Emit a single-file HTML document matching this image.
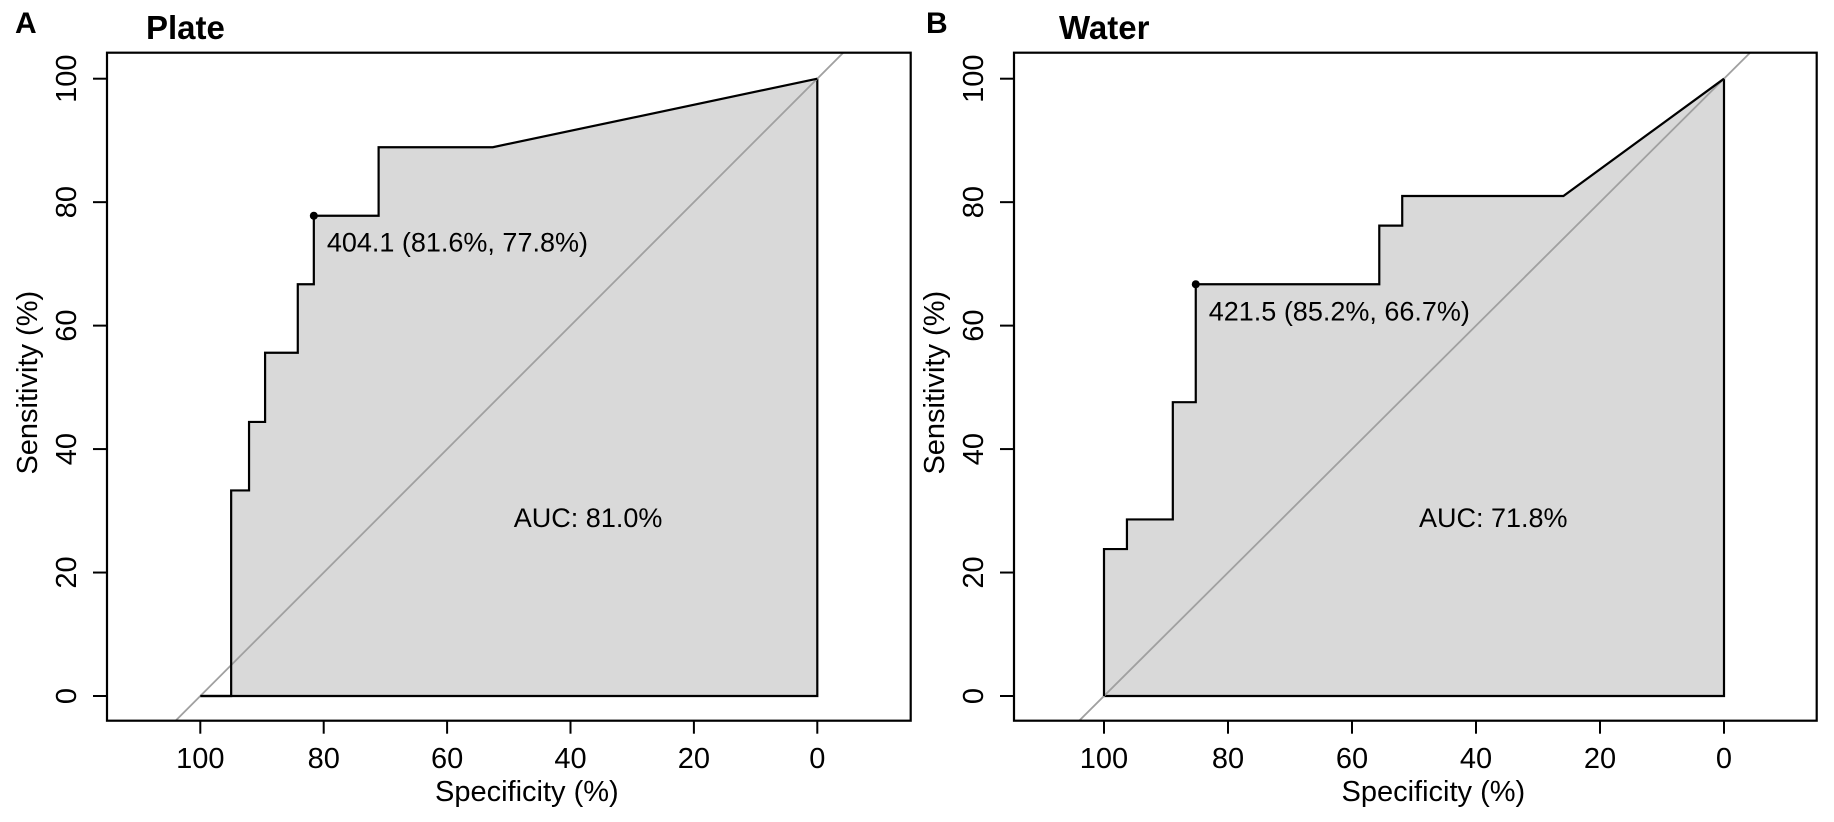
<!DOCTYPE html>
<html><head><meta charset="utf-8">
<style>
html,body{margin:0;padding:0;background:#fff;}
svg{display:block;font-family:"Liberation Sans",Arial,sans-serif;}
</style></head>
<body>
<svg id="chart" width="1834" height="822" viewBox="0 0 1834 822"></svg>
<script>
// Panel A (Plate) data
const plateSpec = [100, 95, 95, 92.1, 92.1, 89.5, 89.5, 84.2, 84.2, 81.6, 81.6, 71.1, 71.1, 52.6, 0];
const plateSens = [0, 0, 33.3, 33.3, 44.4, 44.4, 55.6, 55.6, 66.7, 66.7, 77.8, 77.8, 88.9, 88.9, 100];
const plateBest = [81.6, 77.8];
const plateBestLabel = "404.1 (81.6%, 77.8%)";
const plateAuc = "AUC: 81.0%";
// Panel B (Water) data
const waterSpec = [100, 100, 96.3, 96.3, 88.9, 88.9, 85.2, 85.2, 55.6, 55.6, 51.9, 51.9, 25.9, 0];
const waterSens = [0, 23.8, 23.8, 28.6, 28.6, 47.6, 47.6, 66.7, 66.7, 76.2, 76.2, 81.0, 81.0, 100];
const waterBest = [85.2, 66.7];
const waterBestLabel = "421.5 (85.2%, 66.7%)";
const waterAuc = "AUC: 71.8%";
const tickValues = [100, 80, 60, 40, 20, 0];
const tickLabels = ["100", "80", "60", "40", "20", "0"];

const NS = "http://www.w3.org/2000/svg";
const svg = document.getElementById("chart");
function mk(tag, attrs, parent) {
  const e = document.createElementNS(NS, tag);
  for (const k in attrs) e.setAttribute(k, attrs[k]);
  (parent || svg).appendChild(e);
  return e;
}

function panel(cfg) {
  const g = mk("g", {});
  
  
  const bx0 = cfg.bx0, bx1 = cfg.bx1, by0 = 52.7, by1 = 720.7;
  const xs = v => cfg.x0 - v * cfg.kx;
  const ys = v => 696 - v * 6.173;
  const clipId = "clip-" + cfg.name;
  const cp = mk("clipPath", { id: clipId }, g);
  mk("rect", { x: bx0, y: by0, width: bx1 - bx0, height: by1 - by0 }, cp);

  let pts = cfg.spec.map((s, i) => xs(s) + "," + ys(cfg.sens[i]));
  pts.push(xs(0) + "," + ys(0));
  const poly = mk("polygon", { points: pts.join(" "), fill: "#d9d9d9", stroke: "none" }, g);
  
  
  const base = mk("polyline", { points: xs(cfg.spec[0]) + "," + ys(0) + " " + xs(0) + "," + ys(0) + " " + xs(0) + "," + ys(100), fill: "none", stroke: "#000", "stroke-width": 2.2 }, g);
  
  

  const diag = mk("line", { x1: xs(110), y1: ys(-10), x2: xs(-10), y2: ys(110), stroke: "#a0a0a0", "stroke-width": 1.8, "clip-path": "url(#" + clipId + ")" }, g);
  
  

  const roc = mk("polyline", { points: cfg.spec.map((s, i) => xs(s) + "," + ys(cfg.sens[i])).join(" "), fill: "none", stroke: "#000", "stroke-width": 2.2 }, g);
  
  

  const bp = mk("circle", { cx: xs(cfg.best[0]), cy: ys(cfg.best[1]), r: 4, fill: "#000" }, g);
  
  
  const bl = mk("text", { x: xs(cfg.best[0]) + 13, y: ys(cfg.best[1]) + 36, "font-size": 27 }, g);
  bl.textContent = cfg.bestLabel;
  
  
  const al = mk("text", { x: xs(50) + 5, y: ys(27.4), "font-size": 27 }, g);
  al.textContent = cfg.auc;
  
  

  const box = mk("rect", { x: bx0, y: by0, width: bx1 - bx0, height: by1 - by0, fill: "none", stroke: "#000", "stroke-width": 2.2 }, g);
  
  

  tickValues.forEach((v, i) => {
    const tx = mk("line", { x1: xs(v), y1: by1, x2: xs(v), y2: by1 + 13, stroke: "#000", "stroke-width": 2 }, g);
    
    
    const lx = mk("text", { x: xs(v), y: 768, "font-size": 29, "text-anchor": "middle" }, g);
    lx.textContent = tickLabels[i];
    
    
    const ty = mk("line", { x1: bx0, y1: ys(v), x2: bx0 - 14, y2: ys(v), stroke: "#000", "stroke-width": 2 }, g);
    
    
    const lyx = bx0 - 31;
    const ly = mk("text", { x: lyx, y: ys(v), "font-size": 29, "text-anchor": "middle", transform: "rotate(-90 " + lyx + " " + ys(v) + ")" }, g);
    ly.textContent = tickLabels[i];
    
    
  });

  const xt = mk("text", { x: (bx0 + bx1) / 2 + 18, y: 801, "font-size": 29, "text-anchor": "middle" }, g);
  xt.textContent = "Specificity (%)";
  
  
  const ytx = bx0 - 70, yty = (by0 + by1) / 2 - 4;
  const yt = mk("text", { x: ytx, y: yty, "font-size": 29, "text-anchor": "middle", transform: "rotate(-90 " + ytx + " " + yty + ")" }, g);
  yt.textContent = "Sensitivity (%)";
  
  

  const pl = mk("text", { x: cfg.letterX, y: 33, "font-size": 30, "font-weight": "bold" }, g);
  pl.textContent = cfg.letter;
  
  
  const tt = mk("text", { x: cfg.titleX, y: 39, "font-size": 33, "font-weight": "bold" }, g);
  tt.textContent = cfg.title;
  
  
}

panel({ name: "plate", bx0: 107, bx1: 910.7, x0: 817.3, kx: 6.17, spec: plateSpec, sens: plateSens, best: plateBest, bestLabel: plateBestLabel, auc: plateAuc, letter: "A", letterX: 15, title: "Plate", titleX: 146 });
panel({ name: "water", bx0: 1014, bx1: 1816.7, x0: 1724, kx: 6.2, spec: waterSpec, sens: waterSens, best: waterBest, bestLabel: waterBestLabel, auc: waterAuc, letter: "B", letterX: 926, title: "Water", titleX: 1059 });
</script>
</body></html>
